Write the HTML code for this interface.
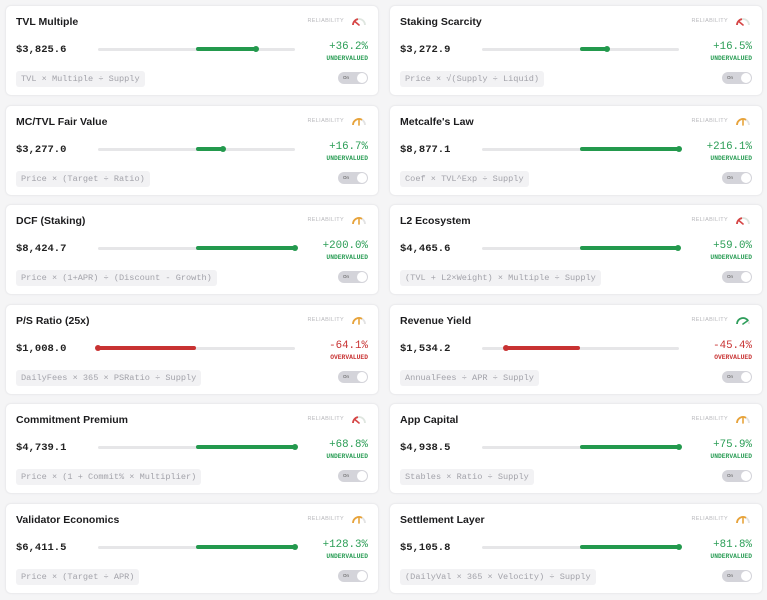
<!DOCTYPE html>
<html><head><meta charset="utf-8"><style>
*{margin:0;padding:0;box-sizing:border-box}
html,body{width:767px;height:600px;background:#f5f5f6;overflow:hidden;font-family:"Liberation Sans",sans-serif}
.card{position:absolute;width:374px;height:91px;background:#fff;border:1px solid #ececee;border-radius:6px;box-shadow:0 0 2px rgba(0,0,0,0.03)}
.c1{left:5px}.c2{left:389px}
.t{position:absolute;left:10px;top:10px;font-size:10.5px;line-height:12px;font-weight:bold;color:#1c1c1e}
.rl{position:absolute;right:34px;top:12px;font-size:5.5px;line-height:7px;letter-spacing:0.35px;color:#b8b8bc}
.g{position:absolute;left:345px;top:10px;width:16px;height:10px}
.p{position:absolute;left:10px;top:38px;font-family:"Liberation Mono",monospace;font-weight:bold;font-size:10.5px;line-height:12px;color:#222}
.tr{position:absolute;left:92px;top:42px;width:197px;height:3px;background:#e6e6e8;border-radius:2px}
.f{position:absolute;top:41px;height:4px;border-radius:2px}
.d{position:absolute;top:40px;width:6px;height:6px;border-radius:3px}
.gr{background:#23994d}.rd{background:#c83232}
.v{position:absolute;right:10px;top:34.5px;font-family:"Liberation Mono",monospace;font-size:10.8px;line-height:12px}
.s{position:absolute;right:10px;top:48.5px;font-family:"Liberation Mono",monospace;font-size:6.3px;line-height:8px;font-weight:bold}
.gt{color:#2a9d55}.rt{color:#c83232}
.ch{position:absolute;left:10px;top:64.5px;height:16px;line-height:16px;padding:0 5px;background:#f2f2f4;border-radius:3px;font-family:"Liberation Mono","DejaVu Sans Mono",monospace;font-size:8.6px;color:#a3a3aa}
.tg{position:absolute;right:10px;top:66px;width:30px;height:12px;border-radius:6px;background:#d4d4da}
.tg span{position:absolute;left:5px;top:3px;font-size:4.5px;line-height:6px;color:#555}
.tg i{position:absolute;right:1px;top:1px;width:10px;height:10px;border-radius:5px;background:#fff}
</style></head><body>

<!-- Row 1 -->
<div class="card c1" style="top:5px">
<div class="t">TVL Multiple</div><div class="rl">RELIABILITY</div>
<svg class="g" viewBox="0 0 16 10"><path d="M2,9 A6,6 0 0 1 14,9" fill="none" stroke="#dfe6e0" stroke-width="1.8"/><path d="M2,9 A6,6 0 0 1 6.96,3.09" fill="none" stroke="#d64545" stroke-width="1.8"/><line x1="8" y1="9" x2="4.17" y2="5.79" stroke="#d64545" stroke-width="1.6" stroke-linecap="round"/></svg>
<div class="p">$3,825.6</div><div class="tr"></div>
<div class="f gr" style="left:190px;width:60px"></div><div class="d gr" style="left:247px"></div>
<div class="v gt">+36.2%</div><div class="s gt">UNDERVALUED</div>
<div class="ch">TVL × Multiple ÷ Supply</div>
<div class="tg"><span>On</span><i></i></div>
</div>

<div class="card c2" style="top:5px">
<div class="t">Staking Scarcity</div><div class="rl">RELIABILITY</div>
<svg class="g" viewBox="0 0 16 10"><path d="M2,9 A6,6 0 0 1 14,9" fill="none" stroke="#dfe6e0" stroke-width="1.8"/><path d="M2,9 A6,6 0 0 1 6.96,3.09" fill="none" stroke="#d64545" stroke-width="1.8"/><line x1="8" y1="9" x2="4.17" y2="5.79" stroke="#d64545" stroke-width="1.6" stroke-linecap="round"/></svg>
<div class="p">$3,272.9</div><div class="tr"></div>
<div class="f gr" style="left:190px;width:27px"></div><div class="d gr" style="left:214px"></div>
<div class="v gt">+16.5%</div><div class="s gt">UNDERVALUED</div>
<div class="ch">Price × √(Supply ÷ Liquid)</div>
<div class="tg"><span>On</span><i></i></div>
</div>

<!-- Row 2 -->
<div class="card c1" style="top:105px">
<div class="t">MC/TVL Fair Value</div><div class="rl">RELIABILITY</div>
<svg class="g" viewBox="0 0 16 10"><path d="M2,9 A6,6 0 0 1 14,9" fill="none" stroke="#e3e3e3" stroke-width="1.8"/><path d="M2,9 A6,6 0 0 1 11,3.8" fill="none" stroke="#e8a33a" stroke-width="1.8"/><line x1="8" y1="9" x2="8" y2="4" stroke="#e8a33a" stroke-width="1.6" stroke-linecap="round"/></svg>
<div class="p">$3,277.0</div><div class="tr"></div>
<div class="f gr" style="left:190px;width:27px"></div><div class="d gr" style="left:214px"></div>
<div class="v gt">+16.7%</div><div class="s gt">UNDERVALUED</div>
<div class="ch">Price × (Target ÷ Ratio)</div>
<div class="tg"><span>On</span><i></i></div>
</div>

<div class="card c2" style="top:105px">
<div class="t">Metcalfe's Law</div><div class="rl">RELIABILITY</div>
<svg class="g" viewBox="0 0 16 10"><path d="M2,9 A6,6 0 0 1 14,9" fill="none" stroke="#e3e3e3" stroke-width="1.8"/><path d="M2,9 A6,6 0 0 1 11,3.8" fill="none" stroke="#e8a33a" stroke-width="1.8"/><line x1="8" y1="9" x2="8" y2="4" stroke="#e8a33a" stroke-width="1.6" stroke-linecap="round"/></svg>
<div class="p">$8,877.1</div><div class="tr"></div>
<div class="f gr" style="left:190px;width:99px"></div><div class="d gr" style="left:286px"></div>
<div class="v gt">+216.1%</div><div class="s gt">UNDERVALUED</div>
<div class="ch">Coef × TVL^Exp ÷ Supply</div>
<div class="tg"><span>On</span><i></i></div>
</div>

<!-- Row 3 -->
<div class="card c1" style="top:204px">
<div class="t">DCF (Staking)</div><div class="rl">RELIABILITY</div>
<svg class="g" viewBox="0 0 16 10"><path d="M2,9 A6,6 0 0 1 14,9" fill="none" stroke="#e3e3e3" stroke-width="1.8"/><path d="M2,9 A6,6 0 0 1 11,3.8" fill="none" stroke="#e8a33a" stroke-width="1.8"/><line x1="8" y1="9" x2="8" y2="4" stroke="#e8a33a" stroke-width="1.6" stroke-linecap="round"/></svg>
<div class="p">$8,424.7</div><div class="tr"></div>
<div class="f gr" style="left:190px;width:99px"></div><div class="d gr" style="left:286px"></div>
<div class="v gt">+200.0%</div><div class="s gt">UNDERVALUED</div>
<div class="ch">Price × (1+APR) ÷ (Discount - Growth)</div>
<div class="tg"><span>On</span><i></i></div>
</div>

<div class="card c2" style="top:204px">
<div class="t">L2 Ecosystem</div><div class="rl">RELIABILITY</div>
<svg class="g" viewBox="0 0 16 10"><path d="M2,9 A6,6 0 0 1 14,9" fill="none" stroke="#dfe6e0" stroke-width="1.8"/><path d="M2,9 A6,6 0 0 1 6.96,3.09" fill="none" stroke="#d64545" stroke-width="1.8"/><line x1="8" y1="9" x2="4.17" y2="5.79" stroke="#d64545" stroke-width="1.6" stroke-linecap="round"/></svg>
<div class="p">$4,465.6</div><div class="tr"></div>
<div class="f gr" style="left:190px;width:98px"></div><div class="d gr" style="left:285px"></div>
<div class="v gt">+59.0%</div><div class="s gt">UNDERVALUED</div>
<div class="ch">(TVL + L2×Weight) × Multiple ÷ Supply</div>
<div class="tg"><span>On</span><i></i></div>
</div>

<!-- Row 4 -->
<div class="card c1" style="top:304px">
<div class="t">P/S Ratio (25x)</div><div class="rl">RELIABILITY</div>
<svg class="g" viewBox="0 0 16 10"><path d="M2,9 A6,6 0 0 1 14,9" fill="none" stroke="#e3e3e3" stroke-width="1.8"/><path d="M2,9 A6,6 0 0 1 11,3.8" fill="none" stroke="#e8a33a" stroke-width="1.8"/><line x1="8" y1="9" x2="8" y2="4" stroke="#e8a33a" stroke-width="1.6" stroke-linecap="round"/></svg>
<div class="p">$1,008.0</div><div class="tr"></div>
<div class="f rd" style="left:92px;width:98px"></div><div class="d rd" style="left:89px"></div>
<div class="v rt">-64.1%</div><div class="s rt">OVERVALUED</div>
<div class="ch">DailyFees × 365 × PSRatio ÷ Supply</div>
<div class="tg"><span>On</span><i></i></div>
</div>

<div class="card c2" style="top:304px">
<div class="t">Revenue Yield</div><div class="rl">RELIABILITY</div>
<svg class="g" viewBox="0 0 16 10"><path d="M2,9 A6,6 0 0 1 14,9" fill="none" stroke="#e3e3e3" stroke-width="1.8"/><path d="M2,9 A6,6 0 0 1 13.2,6" fill="none" stroke="#2e9e5b" stroke-width="1.8"/><line x1="8" y1="9" x2="12.1" y2="6.13" stroke="#2e9e5b" stroke-width="1.6" stroke-linecap="round"/></svg>
<div class="p">$1,534.2</div><div class="tr"></div>
<div class="f rd" style="left:116px;width:74px"></div><div class="d rd" style="left:113px"></div>
<div class="v rt">-45.4%</div><div class="s rt">OVERVALUED</div>
<div class="ch">AnnualFees ÷ APR ÷ Supply</div>
<div class="tg"><span>On</span><i></i></div>
</div>

<!-- Row 5 -->
<div class="card c1" style="top:403px">
<div class="t">Commitment Premium</div><div class="rl">RELIABILITY</div>
<svg class="g" viewBox="0 0 16 10"><path d="M2,9 A6,6 0 0 1 14,9" fill="none" stroke="#dfe6e0" stroke-width="1.8"/><path d="M2,9 A6,6 0 0 1 6.96,3.09" fill="none" stroke="#d64545" stroke-width="1.8"/><line x1="8" y1="9" x2="4.17" y2="5.79" stroke="#d64545" stroke-width="1.6" stroke-linecap="round"/></svg>
<div class="p">$4,739.1</div><div class="tr"></div>
<div class="f gr" style="left:190px;width:99px"></div><div class="d gr" style="left:286px"></div>
<div class="v gt">+68.8%</div><div class="s gt">UNDERVALUED</div>
<div class="ch">Price × (1 + Commit% × Multiplier)</div>
<div class="tg"><span>On</span><i></i></div>
</div>

<div class="card c2" style="top:403px">
<div class="t">App Capital</div><div class="rl">RELIABILITY</div>
<svg class="g" viewBox="0 0 16 10"><path d="M2,9 A6,6 0 0 1 14,9" fill="none" stroke="#e3e3e3" stroke-width="1.8"/><path d="M2,9 A6,6 0 0 1 11,3.8" fill="none" stroke="#e8a33a" stroke-width="1.8"/><line x1="8" y1="9" x2="8" y2="4" stroke="#e8a33a" stroke-width="1.6" stroke-linecap="round"/></svg>
<div class="p">$4,938.5</div><div class="tr"></div>
<div class="f gr" style="left:190px;width:99px"></div><div class="d gr" style="left:286px"></div>
<div class="v gt">+75.9%</div><div class="s gt">UNDERVALUED</div>
<div class="ch">Stables × Ratio ÷ Supply</div>
<div class="tg"><span>On</span><i></i></div>
</div>

<!-- Row 6 -->
<div class="card c1" style="top:503px">
<div class="t">Validator Economics</div><div class="rl">RELIABILITY</div>
<svg class="g" viewBox="0 0 16 10"><path d="M2,9 A6,6 0 0 1 14,9" fill="none" stroke="#e3e3e3" stroke-width="1.8"/><path d="M2,9 A6,6 0 0 1 11,3.8" fill="none" stroke="#e8a33a" stroke-width="1.8"/><line x1="8" y1="9" x2="8" y2="4" stroke="#e8a33a" stroke-width="1.6" stroke-linecap="round"/></svg>
<div class="p">$6,411.5</div><div class="tr"></div>
<div class="f gr" style="left:190px;width:99px"></div><div class="d gr" style="left:286px"></div>
<div class="v gt">+128.3%</div><div class="s gt">UNDERVALUED</div>
<div class="ch">Price × (Target ÷ APR)</div>
<div class="tg"><span>On</span><i></i></div>
</div>

<div class="card c2" style="top:503px">
<div class="t">Settlement Layer</div><div class="rl">RELIABILITY</div>
<svg class="g" viewBox="0 0 16 10"><path d="M2,9 A6,6 0 0 1 14,9" fill="none" stroke="#e3e3e3" stroke-width="1.8"/><path d="M2,9 A6,6 0 0 1 11,3.8" fill="none" stroke="#e8a33a" stroke-width="1.8"/><line x1="8" y1="9" x2="8" y2="4" stroke="#e8a33a" stroke-width="1.6" stroke-linecap="round"/></svg>
<div class="p">$5,105.8</div><div class="tr"></div>
<div class="f gr" style="left:190px;width:99px"></div><div class="d gr" style="left:286px"></div>
<div class="v gt">+81.8%</div><div class="s gt">UNDERVALUED</div>
<div class="ch">(DailyVal × 365 × Velocity) ÷ Supply</div>
<div class="tg"><span>On</span><i></i></div>
</div>

</body></html>
